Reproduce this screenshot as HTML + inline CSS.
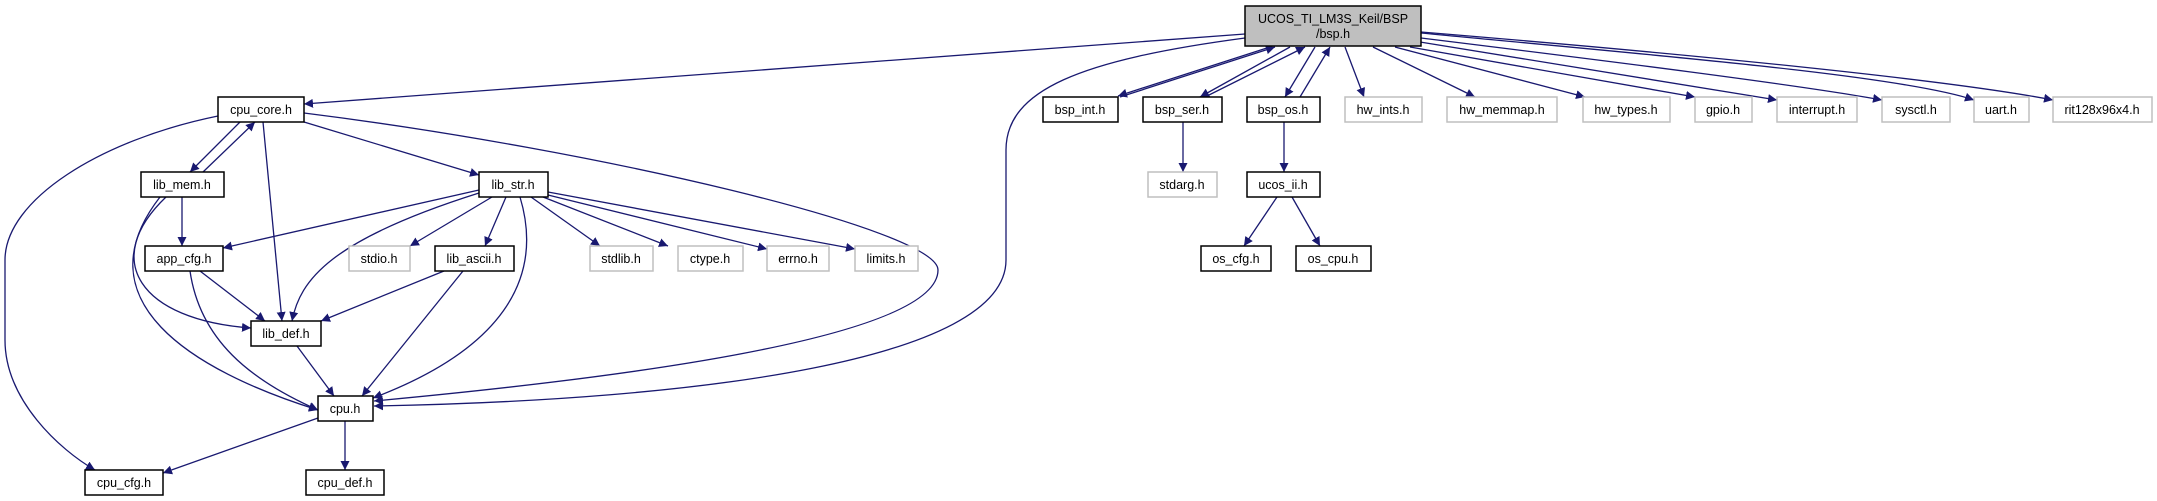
<!DOCTYPE html>
<html><head><meta charset="utf-8"><style>
html,body{margin:0;padding:0;background:#fff;width:2157px;height:501px;overflow:hidden}
svg text{font-family:"Liberation Sans",sans-serif;font-size:12.5px;fill:#000;text-anchor:middle}
</style></head><body>
<svg width="2157" height="501" viewBox="0 0 2157 501" xmlns="http://www.w3.org/2000/svg">
<defs><marker id="a" viewBox="0 0 10 10" refX="10" refY="5" markerWidth="9" markerHeight="9" markerUnits="userSpaceOnUse" orient="auto"><path d="M0,0 L10,5 L0,10 z" fill="#191970"/></marker></defs>
<g fill="none" stroke="#191970" stroke-width="1.3" marker-end="url(#a)">
<path d="M1245,34 L304,104"/>
<path d="M1245,38 C1080,60 1006,90 1006,150 L1006,260 C1006,360 700,400 374,406"/>
<path d="M304,113 C600,150 938,230 938,270 C938,340 600,380 374,401"/>
<path d="M1270,47 L1118,96"/>
<path d="M1120,97 L1275,47"/>
<path d="M1290,47 L1200,97"/>
<path d="M1205,97 L1305,47"/>
<path d="M1315,47 L1285,97"/>
<path d="M1300,97 L1330,47"/>
<path d="M1345,47 L1364,97"/>
<path d="M1373,47 L1475,97"/>
<path d="M1395,47 L1585,97"/>
<path d="M1410,47 L1695,97"/>
<path d="M1420,42 L1777,100"/>
<path d="M1421,38 C1600,60 1800,85 1882,100"/>
<path d="M1421,33 C1650,55 1900,75 1974,100"/>
<path d="M1421,32 C1700,55 1950,80 2053,100"/>
<path d="M1183,122 L1183,172"/>
<path d="M1284,122 L1284,172"/>
<path d="M1277,197 L1244,246"/>
<path d="M1292,197 L1320,246"/>
<path d="M240,122 L190,172"/>
<path d="M203,172 L255,122"/>
<path d="M263,122 L282,321"/>
<path d="M304,122 L479,175"/>
<path d="M218,116 C100,140 5,200 5,260 L5,340 C5,400 60,450 95,470"/>
<path d="M182,197 L182,246"/>
<path d="M166,197 C100,260 140,320 251,328"/>
<path d="M160,197 C80,300 190,370 318,410"/>
<path d="M479,190 L223,248"/>
<path d="M479,193 C330,240 300,280 292,321"/>
<path d="M492,197 L410,246"/>
<path d="M506,197 L485,246"/>
<path d="M520,197 C545,280 500,350 373,398"/>
<path d="M531,197 L600,246"/>
<path d="M543,197 L668,246"/>
<path d="M548,195 L767,249"/>
<path d="M548,192 L855,249"/>
<path d="M200,271 L265,321"/>
<path d="M190,271 C200,340 250,380 318,410"/>
<path d="M444,271 L321,321"/>
<path d="M463,271 L362,396"/>
<path d="M297,346 L334,396"/>
<path d="M318,418 L163,473"/>
<path d="M345,421 L345,470"/>
</g>
<g stroke-width="1.5">
<rect x="1245" y="6" width="176" height="40" fill="#bfbfbf" stroke="#000"/>
<g fill="#fff" stroke="#000">
<rect x="218" y="97" width="86" height="25"/>
<rect x="141" y="172" width="83" height="25"/>
<rect x="479" y="172" width="69" height="25"/>
<rect x="145" y="246" width="78" height="25"/>
<rect x="435" y="246" width="79" height="25"/>
<rect x="251" y="321" width="70" height="25"/>
<rect x="318" y="396" width="55" height="25"/>
<rect x="85" y="470" width="78" height="25"/>
<rect x="306" y="470" width="78" height="25"/>
<rect x="1043" y="97" width="75" height="25"/>
<rect x="1143" y="97" width="79" height="25"/>
<rect x="1247" y="97" width="73" height="25"/>
<rect x="1247" y="172" width="73" height="25"/>
<rect x="1201" y="246" width="70" height="25"/>
<rect x="1296" y="246" width="75" height="25"/>
</g>
<g fill="#fff" stroke="#bfbfbf">
<rect x="349" y="246" width="61" height="25"/>
<rect x="590" y="246" width="63" height="25"/>
<rect x="678" y="246" width="65" height="25"/>
<rect x="767" y="246" width="62" height="25"/>
<rect x="855" y="246" width="63" height="25"/>
<rect x="1148" y="172" width="69" height="25"/>
<rect x="1345" y="97" width="77" height="25"/>
<rect x="1447" y="97" width="110" height="25"/>
<rect x="1583" y="97" width="87" height="25"/>
<rect x="1695" y="97" width="57" height="25"/>
<rect x="1777" y="97" width="80" height="25"/>
<rect x="1882" y="97" width="68" height="25"/>
<rect x="1974" y="97" width="55" height="25"/>
<rect x="2053" y="97" width="99" height="25"/>
</g>
</g>
<text x="1333" y="23">UCOS_TI_LM3S_Keil/BSP</text>
<text x="1333" y="38">/bsp.h</text>
<text x="261" y="114">cpu_core.h</text>
<text x="182" y="189">lib_mem.h</text>
<text x="513" y="189">lib_str.h</text>
<text x="184" y="263">app_cfg.h</text>
<text x="474" y="263">lib_ascii.h</text>
<text x="286" y="338">lib_def.h</text>
<text x="345" y="413">cpu.h</text>
<text x="124" y="487">cpu_cfg.h</text>
<text x="345" y="487">cpu_def.h</text>
<text x="1080" y="114">bsp_int.h</text>
<text x="1182" y="114">bsp_ser.h</text>
<text x="1283" y="114">bsp_os.h</text>
<text x="1283" y="189">ucos_ii.h</text>
<text x="1236" y="263">os_cfg.h</text>
<text x="1333" y="263">os_cpu.h</text>
<text x="379" y="263">stdio.h</text>
<text x="621" y="263">stdlib.h</text>
<text x="710" y="263">ctype.h</text>
<text x="798" y="263">errno.h</text>
<text x="886" y="263">limits.h</text>
<text x="1182" y="189">stdarg.h</text>
<text x="1383" y="114">hw_ints.h</text>
<text x="1502" y="114">hw_memmap.h</text>
<text x="1626" y="114">hw_types.h</text>
<text x="1723" y="114">gpio.h</text>
<text x="1817" y="114">interrupt.h</text>
<text x="1916" y="114">sysctl.h</text>
<text x="2001" y="114">uart.h</text>
<text x="2102" y="114">rit128x96x4.h</text>
</svg>
</body></html>
